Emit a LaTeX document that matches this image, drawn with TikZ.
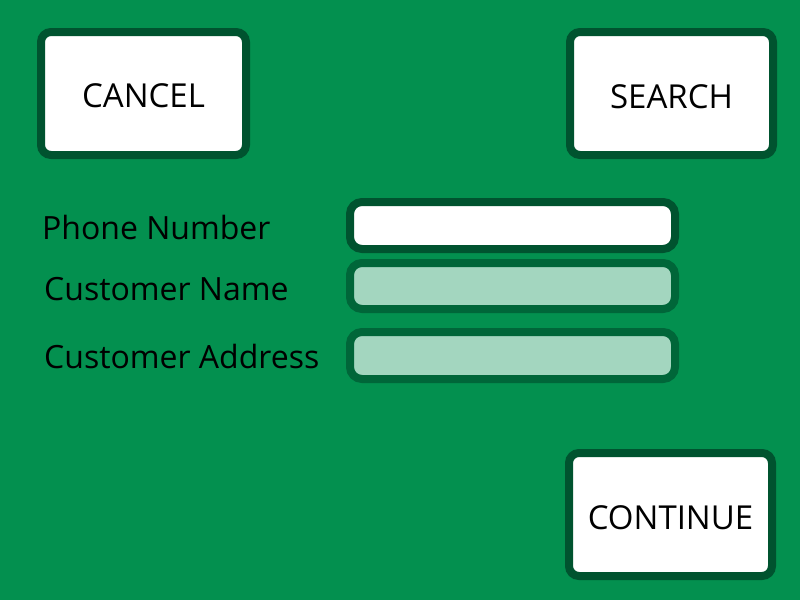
\documentclass[tikz,border=0pt]{standalone}
\usepackage{fontspec}
\setmainfont{Open Sans}
\definecolor{bggreen}{HTML}{03904F}
\definecolor{darkb}{HTML}{00532F}
\definecolor{midb}{HTML}{006639}
\definecolor{lightf}{HTML}{A3D6BF}
\tikzset{
  btn/.style={draw=darkb, line width=8pt, fill=white, rounded corners=10pt},
  field/.style={draw=midb, line width=8pt, fill=lightf, rounded corners=12pt},
  lbl/.style={anchor=base west, inner sep=0pt, font=\fontsize{32}{38}\selectfont},
  btxt/.style={anchor=base, inner sep=0pt, font=\fontsize{33}{39}\selectfont},
}
\begin{document}
\begin{tikzpicture}[x=1pt,y=-1pt]
\fill[bggreen] (0,0) rectangle (800,600);
\useasboundingbox (0,0) rectangle (800,600);
% buttons
\draw[btn] (41,32) rectangle (246,155);
\draw[btn] (570,32) rectangle (773,155);
\draw[btn] (569,453) rectangle (772,576);
\node[btxt] (cancel) at (143.5,107) {CANCEL};
\node[btxt] (search) at (671.5,108) {SEARCH};
\node[btxt] (continue) at (670.5,529) {CONTINUE};
% fields
\draw[btn, draw=darkb, rounded corners=12pt] (350,202) rectangle (675,249);
\draw[field] (350,263) rectangle (675,309);
\draw[field] (350,332) rectangle (675,379);
% labels
\node[lbl] (phone) at (42,239) {Phone Number};
\node[lbl] (cname) at (44,300) {Customer Name};
\node[lbl] (caddr) at (44,368) {Customer Address};
\end{tikzpicture}
\end{document}
